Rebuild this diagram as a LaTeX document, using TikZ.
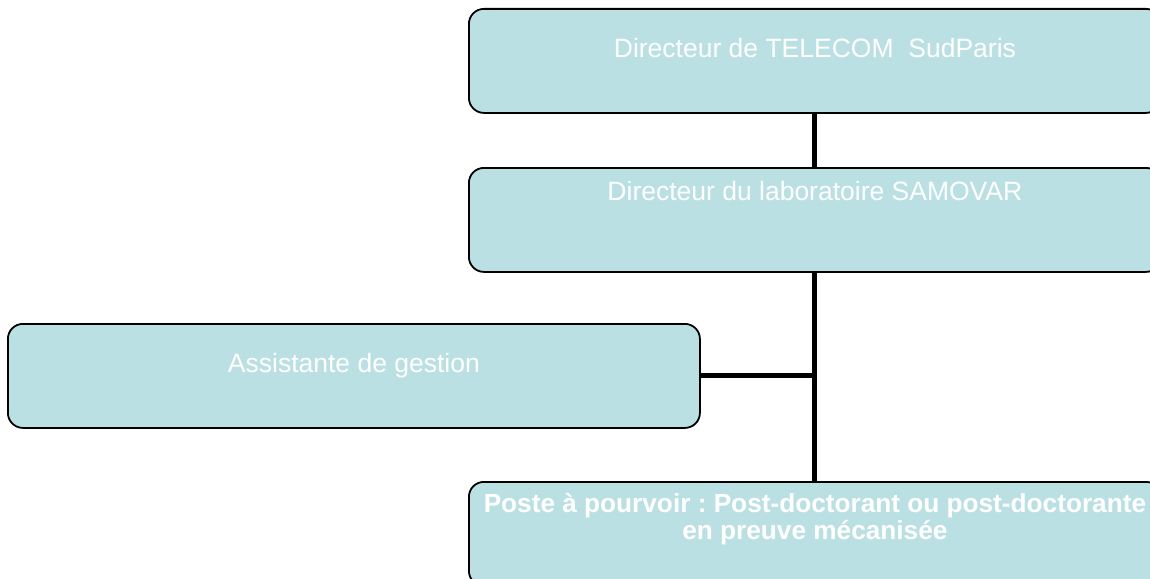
\documentclass[tikz,border=0pt]{standalone}
\usepackage{fontspec}
\setmainfont{Liberation Sans}
\usepackage{xcolor}
\usetikzlibrary{positioning}
\frenchspacing

\definecolor{boxblue}{RGB}{187,224,227}

\tikzset{
  orgbox/.style={draw=black, line width=1.8pt, fill=boxblue, rounded corners=15pt,
    minimum width=692pt, minimum height=104pt, inner sep=0pt},
  orgtext/.style={text=white, anchor=base, inner sep=0pt, align=center,
    font=\fontsize{26.5}{27}\selectfont},
  link/.style={line width=5pt, black}
}

\begin{document}
\begin{tikzpicture}[x=1pt,y=-1pt]
\useasboundingbox (0,0) rectangle (1150,578);
\clip (0,0) rectangle (1150,578);

% boxes
\node[orgbox, anchor=north west] (telecom) at (468,8) {};
\node[orgbox, anchor=north west] (samovar) at (468,167) {};
\node[orgbox, anchor=north west] (gestion) at (7,323) {};
\node[orgbox, anchor=north west] (poste) at (468,481) {};

% connectors
\draw[link] (telecom.south) -- (samovar.north);
\draw[link] (samovar.south) -- (poste.north);
\draw[link] (gestion.east) -- (gestion.east -| samovar.south);

% texts
\node[orgtext] (telecomtxt) at ([yshift=-49pt]telecom.north) {Directeur de TELECOM\ \ SudParis};
\node[orgtext] (samovartxt) at ([yshift=-33pt]samovar.north) {Directeur du laboratoire SAMOVAR};
\node[orgtext] (gestiontxt) at ([yshift=-49pt]gestion.north) {Assistante de gestion};
\node[orgtext, font=\fontsize{26.2}{27}\selectfont\bfseries] (postetxt) at ([yshift=-58pt]poste.north)
  {Poste à pourvoir : Post-doctorant ou post-doctorante\\en preuve mécanisée};
\end{tikzpicture}
\end{document}
